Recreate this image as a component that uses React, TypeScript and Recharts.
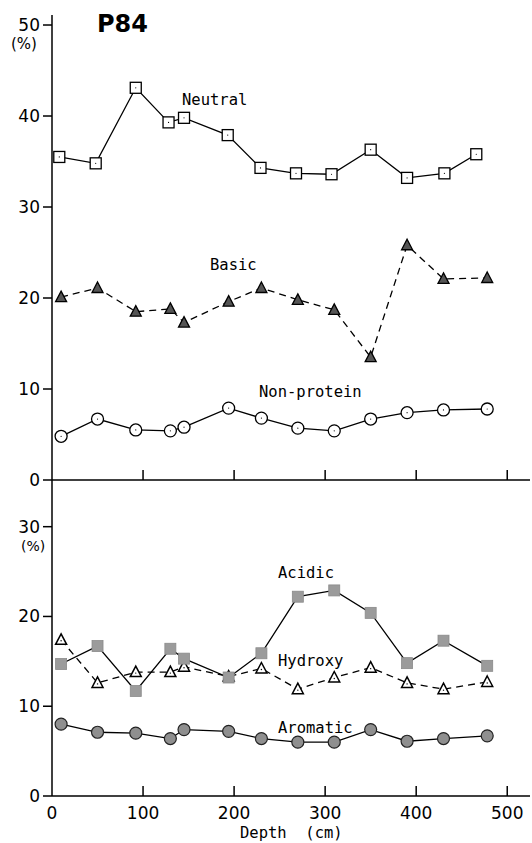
import { LineChart, Line, XAxis, YAxis } from "recharts";

// depth (cm) of each sample, shared by most series
const depths = [10, 50, 92, 130, 145, 194, 230, 270, 310, 350, 390, 430, 478];
const neutralDepths = [8, 48, 92, 128, 145, 193, 229, 268, 307, 350, 390, 431, 466];

// top panel (%)
const neutral = [35.5, 34.8, 43.1, 39.3, 39.8, 37.9, 34.3, 33.7, 33.6, 36.3, 33.2, 33.7, 35.8];
const basic = [20.1, 21.1, 18.5, 18.8, 17.3, 19.6, 21.1, 19.8, 18.7, 13.5, 25.8, 22.1, 22.2];
const nonProtein = [4.8, 6.7, 5.5, 5.4, 5.8, 7.9, 6.8, 5.7, 5.4, 6.7, 7.4, 7.7, 7.8];

// bottom panel (%)
const acidic = [14.7, 16.7, 11.7, 16.4, 15.3, 13.2, 15.9, 22.2, 22.9, 20.4, 14.8, 17.3, 14.5];
const hydroxy = [17.4, 12.6, 13.8, 13.8, 14.4, 13.3, 14.2, 11.9, 13.2, 14.3, 12.6, 11.9, 12.7];
const aromatic = [8.0, 7.1, 7.0, 6.4, 7.4, 7.2, 6.4, 6.0, 6.0, 7.4, 6.1, 6.4, 6.7];

const xTicks = [0, 100, 200, 300, 400, 500];
const topYTicks = [0, 10, 20, 30, 40, 50];
const bottomYTicks = [0, 10, 20, 30];

const toPoints = (xs: number[], ys: number[]) => xs.map((x, i) => ({ x, y: ys[i] }));

const mono = "'DejaVu Sans Mono', monospace";
const sans = "'DejaVu Sans', sans-serif";

const UpTick = (props: any) => {
  const { x, y, payload, showLabel } = props;
  return (
    <g>
      {payload.value !== 0 && (
        <line x1={x} y1={y} x2={x} y2={y - 10} stroke="#000" strokeWidth={1.5} />
      )}
      {showLabel && (
        <text x={x} y={y + 23} textAnchor="middle" fontSize={17} fontFamily={sans} fill="#000">
          {payload.value}
        </text>
      )}
    </g>
  );
};

const OpenSquare = (p: any) => (
  <g key={`sq-${p.index}`}>
    <rect x={p.cx - 5.5} y={p.cy - 5.5} width={11} height={11} fill="#fff" stroke="#000" strokeWidth={1.3} />
    <circle cx={p.cx} cy={p.cy} r={0.6} fill="#000" />
  </g>
);

const GraySquare = (p: any) => (
  <rect key={`gs-${p.index}`} x={p.cx - 5.5} y={p.cy - 5.5} width={11} height={11} fill="#9b9b9b" stroke="#8a8a8a" strokeWidth={0.8} />
);

const DarkTriangle = (p: any) => (
  <path key={`dt-${p.index}`} d={`M${p.cx},${p.cy - 6} L${p.cx + 5.5},${p.cy + 4.5} L${p.cx - 5.5},${p.cy + 4.5} Z`} fill="#555" stroke="#000" strokeWidth={1.3} />
);

const OpenTriangle = (p: any) => (
  <g key={`ot-${p.index}`}>
    <path d={`M${p.cx},${p.cy - 6} L${p.cx + 5.5},${p.cy + 4.5} L${p.cx - 5.5},${p.cy + 4.5} Z`} fill="#fff" stroke="#000" strokeWidth={1.5} />
    <circle cx={p.cx} cy={p.cy + 1} r={0.7} fill="#000" />
  </g>
);

const OpenCircle = (p: any) => (
  <g key={`oc-${p.index}`}>
    <circle cx={p.cx} cy={p.cy} r={6} fill="#fff" stroke="#000" strokeWidth={1.3} />
    <circle cx={p.cx} cy={p.cy} r={0.6} fill="#000" />
  </g>
);

const GrayCircle = (p: any) => (
  <circle key={`gc-${p.index}`} cx={p.cx} cy={p.cy} r={6} fill="#8f8f8f" stroke="#222" strokeWidth={1.2} />
);

const axisLine = { stroke: "#000", strokeWidth: 1.5 };
const yTick = { fill: "#000", fontSize: 17, fontFamily: sans };

const label = (text: string, left: number, top: number, extra: any = {}) => (
  <div
    style={{
      position: "absolute",
      left,
      top,
      fontFamily: mono,
      fontSize: 15.5,
      lineHeight: "16px",
      whiteSpace: "pre",
      color: "#000",
      ...extra,
    }}
  >
    {text}
  </div>
);

export default function App() {
  return (
    <div style={{ position: "absolute", left: 0, top: 0, width: 532, height: 843, background: "#fff" }}>
      <div style={{ position: "absolute", left: 0, top: 0 }}>
        <LineChart width={532} height={490} margin={{ top: 15, right: 2, left: 0, bottom: 0 }}>
          <XAxis
            type="number"
            dataKey="x"
            domain={[0, 525]}
            ticks={xTicks}
            height={10}
            tickLine={false}
            tickSize={0}
            tickMargin={0}
            tick={<UpTick showLabel={false} />}
            axisLine={axisLine}
            allowDataOverflow
          />
          <YAxis
            type="number"
            domain={[0, 51.1]}
            ticks={topYTicks}
            width={52}
            tickSize={9}
            tickMargin={3}
            tick={yTick}
            tickLine={axisLine}
            axisLine={axisLine}
            allowDataOverflow
          />
          <Line data={toPoints(neutralDepths, neutral)} dataKey="y" stroke="#000" strokeWidth={1.3} dot={OpenSquare} activeDot={false} isAnimationActive={false} />
          <Line data={toPoints(depths, basic)} dataKey="y" stroke="#000" strokeWidth={1.3} strokeDasharray="7 5" dot={DarkTriangle} activeDot={false} isAnimationActive={false} />
          <Line data={toPoints(depths, nonProtein)} dataKey="y" stroke="#000" strokeWidth={1.3} dot={OpenCircle} activeDot={false} isAnimationActive={false} />
        </LineChart>
      </div>
      <div style={{ position: "absolute", left: 0, top: 470 }}>
        <LineChart width={532} height={373} margin={{ top: 10, right: 2, left: 0, bottom: 0 }}>
          <XAxis
            type="number"
            dataKey="x"
            domain={[0, 525]}
            ticks={xTicks}
            height={47}
            tickLine={false}
            tickSize={0}
            tickMargin={0}
            tick={<UpTick showLabel={true} />}
            axisLine={axisLine}
            allowDataOverflow
          />
          <YAxis
            type="number"
            domain={[0, 35.2]}
            ticks={bottomYTicks}
            width={52}
            tickSize={9}
            tickMargin={3}
            tick={yTick}
            tickLine={axisLine}
            axisLine={axisLine}
            allowDataOverflow
          />
          <Line data={toPoints(depths, hydroxy)} dataKey="y" stroke="#000" strokeWidth={1.3} strokeDasharray="7 5" dot={OpenTriangle} activeDot={false} isAnimationActive={false} />
          <Line data={toPoints(depths, acidic)} dataKey="y" stroke="#000" strokeWidth={1.3} dot={GraySquare} activeDot={false} isAnimationActive={false} />
          <Line data={toPoints(depths, aromatic)} dataKey="y" stroke="#000" strokeWidth={1.3} dot={GrayCircle} activeDot={false} isAnimationActive={false} />
        </LineChart>
      </div>
      {label("P84", 97, 12, { fontFamily: sans, fontWeight: "bold", fontSize: 24, lineHeight: "24px" })}
      {label("(%)", 11, 36, { fontFamily: sans, fontSize: 15 })}
      {label("(%)", 21, 539, { fontFamily: sans, fontSize: 14, lineHeight: "15px" })}
      {label("Neutral", 182, 92)}
      {label("Basic", 210, 257)}
      {label("Non-protein", 259, 384)}
      {label("Acidic", 278, 565)}
      {label("Hydroxy", 278, 653)}
      {label("Aromatic", 278, 720)}
      {label("Depth  (cm)", 240, 825)}
    </div>
  );
}
